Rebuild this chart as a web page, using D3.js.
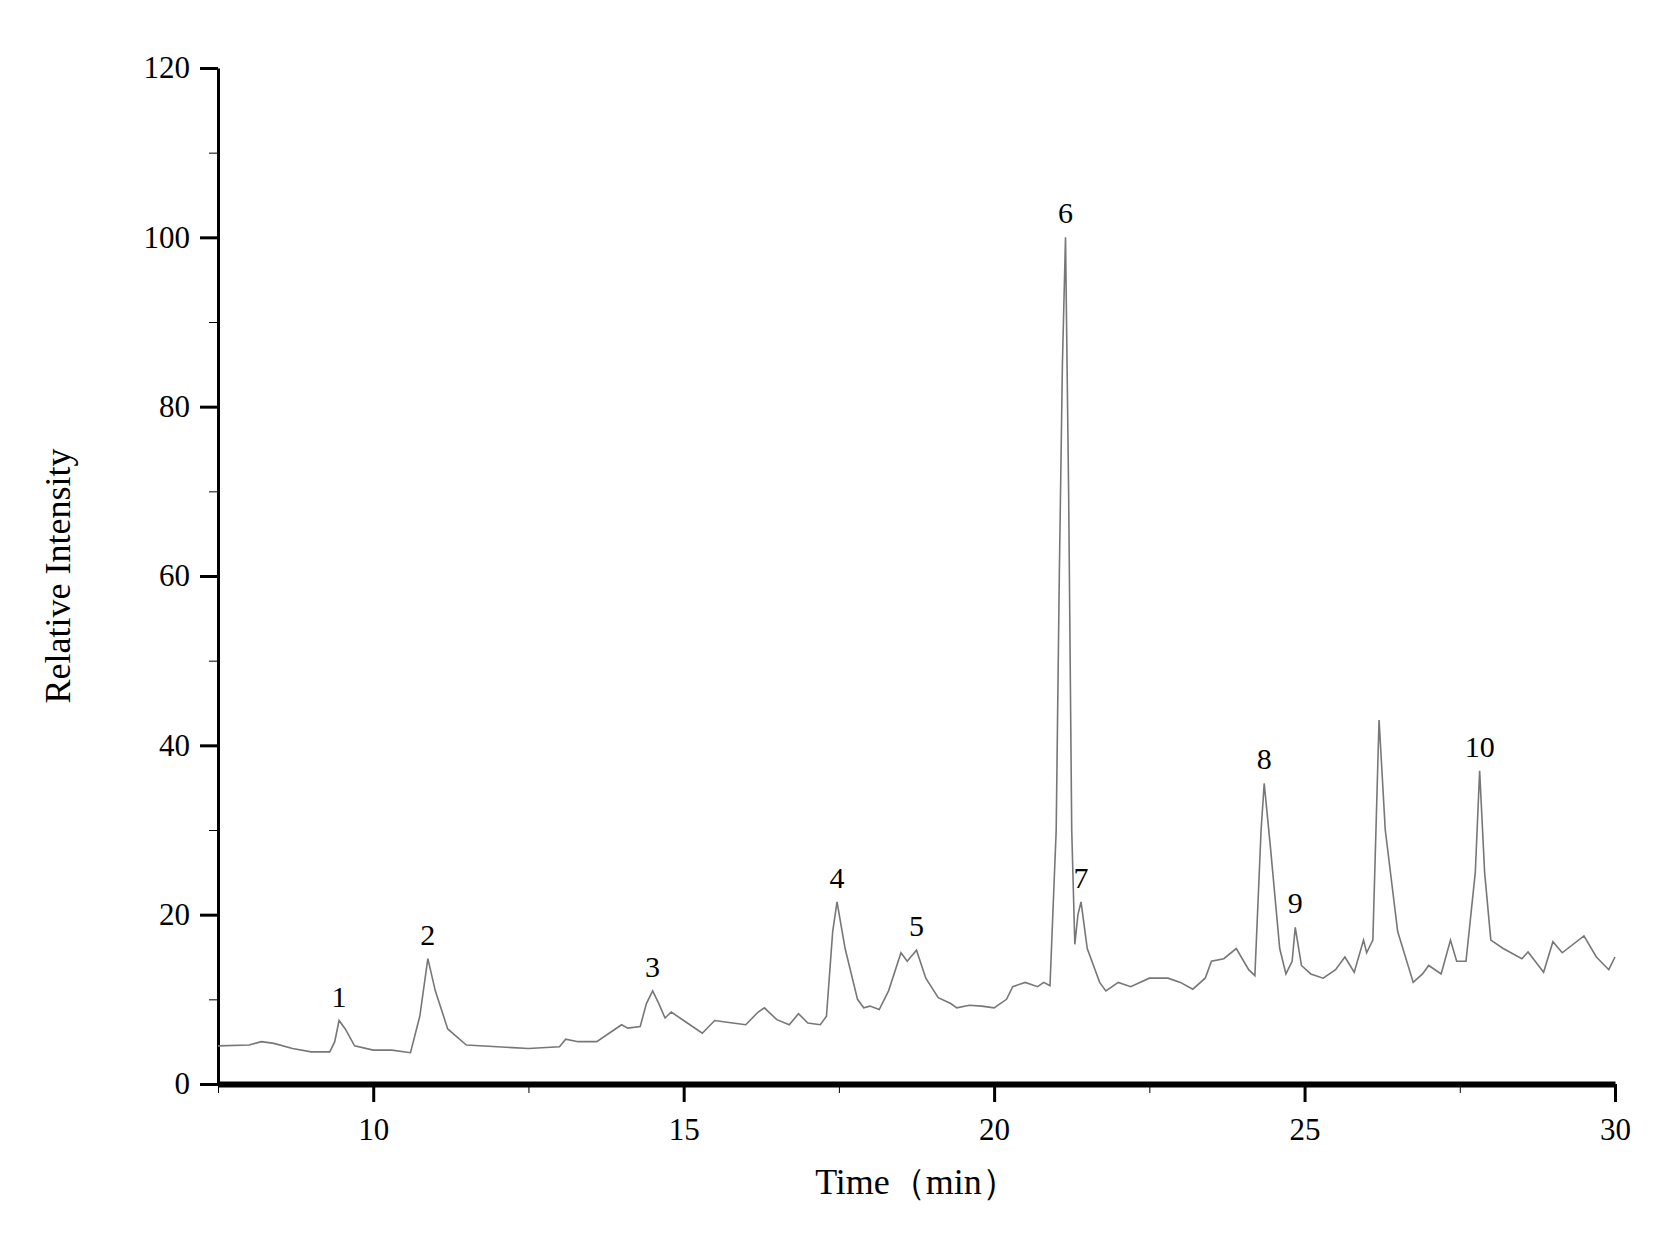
<!DOCTYPE html>
<html><head><meta charset="utf-8">
<script src="https://cdn.jsdelivr.net/npm/d3@7"></script>
<style>body{margin:0;background:#fff}</style>
</head><body><div id="chart"></div>
<script>
const times = [7.5,8.0,8.2,8.4,8.7,9.0,9.3,9.38,9.45,9.55,9.7,10.0,10.3,10.6,10.75,10.88,11.0,11.2,11.5,12.0,12.5,13.0,13.1,13.3,13.6,13.9,14.0,14.1,14.3,14.4,14.5,14.6,14.7,14.8,15.0,15.3,15.5,15.7,16.0,16.2,16.3,16.5,16.7,16.85,17.0,17.2,17.3,17.4,17.47,17.6,17.8,17.9,18.0,18.15,18.3,18.5,18.6,18.75,18.9,19.1,19.3,19.4,19.6,19.8,20.0,20.2,20.3,20.5,20.7,20.8,20.9,21.0,21.05,21.1,21.15,21.2,21.25,21.3,21.35,21.4,21.5,21.7,21.8,22.0,22.2,22.5,22.8,23.0,23.2,23.4,23.5,23.7,23.9,24.1,24.2,24.3,24.35,24.45,24.6,24.7,24.8,24.85,24.95,25.1,25.3,25.5,25.65,25.8,25.95,26.0,26.1,26.15,26.2,26.3,26.5,26.75,26.9,27.0,27.2,27.35,27.45,27.6,27.75,27.82,27.9,28.0,28.2,28.5,28.6,28.85,29.0,29.15,29.5,29.7,29.9,30.0];
const intensity = [4.5,4.6,5.0,4.8,4.2,3.8,3.8,5,7.5,6.5,4.5,4.0,4.0,3.7,8,14.8,11,6.5,4.6,4.4,4.2,4.4,5.3,5.0,5.0,6.5,7.0,6.6,6.8,9.5,11,9.5,7.8,8.5,7.5,6.0,7.5,7.3,7.0,8.5,9.0,7.6,7.0,8.3,7.2,7.0,8,18,21.5,16,10,9,9.2,8.8,11,15.5,14.5,15.8,12.5,10.2,9.5,9,9.3,9.2,9.0,10,11.5,12,11.5,12,11.6,30,60,85,100,70,30,16.5,20,21.5,16,12,11,12,11.5,12.5,12.5,12.0,11.2,12.5,14.5,14.8,16,13.5,12.8,30,35.5,28,16,13,14.5,18.5,14,13,12.5,13.5,15,13.2,17,15.5,17,30,43,30,18,12,13,14,13,17,14.5,14.5,25,37,25,17,16,14.8,15.6,13.2,16.8,15.5,17.5,15,13.5,15];
const peakLabels = ["1","2","3","4","5","6","7","8","9","10"];
const peakTimes = [9.45,10.88,14.5,17.47,18.75,21.15,21.4,24.35,24.85,27.82];
const peakValues = [7.5,14.8,11,21.5,15.8,100,21.5,35.5,18.5,37];
const xTicks = [10,15,20,25,30];
const yTicks = [0,20,40,60,80,100,120];

const W = 1665, H = 1234;
const x = d3.scaleLinear().domain([7.5,30]).range([218,1615]);
const y = d3.scaleLinear().domain([0,120]).range([1084,68]);
const svg = d3.select("#chart").append("svg").attr("width",W).attr("height",H);
const font = "'Times New Roman','Liberation Serif',serif";

// minor ticks
svg.append("g").attr("transform",`translate(0,${y(0)})`)
  .call(d3.axisBottom(x).tickValues(d3.range(7.5,30.01,2.5)).tickSize(9).tickFormat(""))
  .call(g=>g.select(".domain").remove());
svg.append("g").attr("transform",`translate(${x(7.5)},0)`)
  .call(d3.axisLeft(y).tickValues(d3.range(0,121,10)).tickSize(9).tickFormat(""))
  .call(g=>g.select(".domain").remove());

const xa = svg.append("g").attr("transform",`translate(0,${y(0)})`)
  .call(d3.axisBottom(x).tickValues(xTicks).tickSize(18).tickSizeOuter(0).tickPadding(16));
const ya = svg.append("g").attr("transform",`translate(${x(7.5)},0)`)
  .call(d3.axisLeft(y).tickValues(yTicks).tickSize(18).tickSizeOuter(0).tickPadding(10));
[xa,ya].forEach(a=>{
  a.attr("font-family",font);
  a.selectAll("line,path").attr("stroke","#000").attr("stroke-width",3);
  a.selectAll("text").attr("font-family",font).attr("font-size",31).attr("fill","#000");
});
xa.select(".domain").attr("stroke-width",6);

svg.append("path").datum(times.map((t,i)=>[t,intensity[i]]))
  .attr("fill","none").attr("stroke","#777").attr("stroke-width",1.6)
  .attr("d",d3.line().x(d=>x(d[0])).y(d=>y(d[1])));

svg.selectAll(".pk").data(peakLabels).enter().append("text")
  .attr("x",(d,i)=>x(peakTimes[i]))
  .attr("y",(d,i)=>y(peakValues[i])-14)
  .attr("text-anchor","middle").attr("font-family",font).attr("font-size",30)
  .text(d=>d);

svg.append("text").attr("x",(x(7.5)+x(30))/2).attr("y",1194)
  .attr("text-anchor","middle").attr("font-family",font).attr("font-size",36)
  .text("Time（min）");
svg.append("text").attr("transform",`translate(70,${y(60)}) rotate(-90)`)
  .attr("text-anchor","middle").attr("font-family",font).attr("font-size",36)
  .text("Relative Intensity");
</script></body></html>
